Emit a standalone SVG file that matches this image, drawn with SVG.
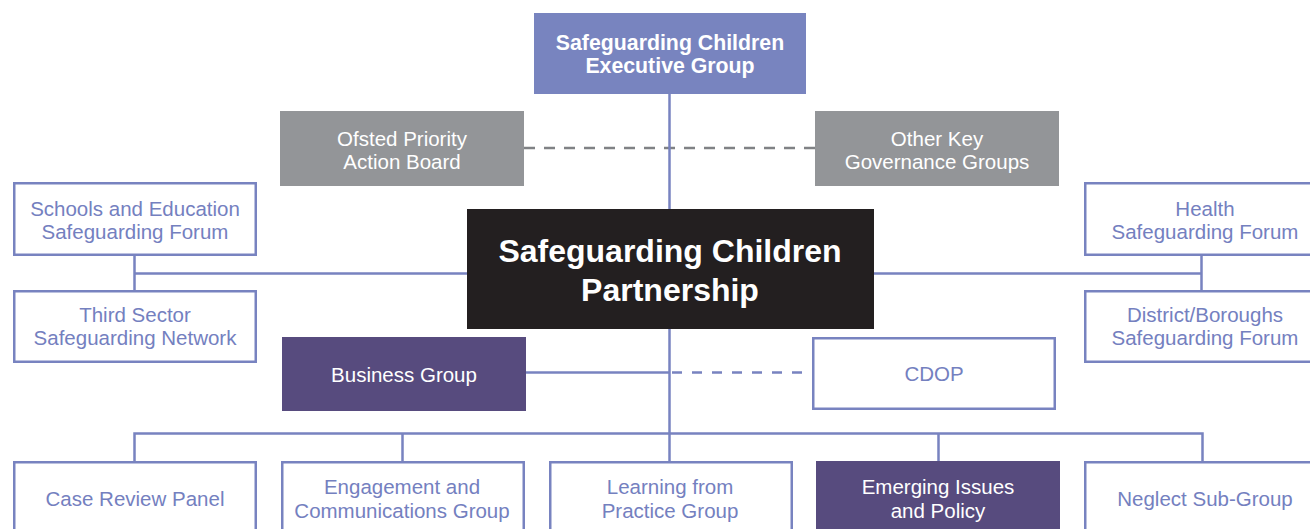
<svg xmlns="http://www.w3.org/2000/svg" width="1310" height="529" viewBox="0 0 1310 529">
<style>
  .t { font-family: "Liberation Sans", Arial, sans-serif; font-size: 20.5px; text-anchor: middle; }
  .b { font-family: "Liberation Sans", Arial, sans-serif; font-weight: bold; text-anchor: middle; fill: #ffffff; }
  .ob { fill: #ffffff; stroke: #7883c0; stroke-width: 2.5; }
  .bt { fill: #7480bf; }
  .wt { fill: #ffffff; }
  .gray { fill: #939598; }
  .purple { fill: #574b7e; }
  .ln { fill: none; stroke: #7883c0; stroke-width: 2.5; }
  .dg { fill: none; stroke: #808285; stroke-width: 2.5; stroke-dasharray: 11 9; }
  .db { fill: none; stroke: #7883c0; stroke-width: 2.5; stroke-dasharray: 10 10; }
</style>
<rect width="1310" height="529" fill="#ffffff"/>
<g id="connectors">
  <path class="dg" d="M524 148 H815"/>
  <path class="ln" d="M669.5 94 V461"/>
  <path class="ln" d="M134.5 256 V290 M134.5 273.5 H467"/>
  <path class="ln" d="M1201.5 256 V290 M873 273.5 H1201.5"/>
  <path class="ln" d="M526 372.5 H669.5"/>
  <path class="db" d="M672 372.5 H802"/>
  <path class="ln" d="M134.5 461 V433.5 H1202.5 V461 M402.5 433.5 V461 M938.5 433.5 V461"/>
</g>
<g id="exec">
  <rect x="534" y="13" width="272" height="81" fill="#7884bf"/>
  <text class="b" x="670" y="50" font-size="21.3">Safeguarding Children</text>
  <text class="b" x="670" y="73" font-size="21.3">Executive Group</text>
</g>
<g id="ofsted">
  <rect class="gray" x="280" y="111" width="244" height="75"/>
  <text class="t wt" x="402" y="146">Ofsted Priority</text>
  <text class="t wt" x="402" y="169">Action Board</text>
</g>
<g id="otherkey">
  <rect class="gray" x="815" y="111" width="244" height="75"/>
  <text class="t wt" x="937" y="146">Other Key</text>
  <text class="t wt" x="937" y="169">Governance Groups</text>
</g>
<g id="partnership">
  <rect x="467" y="209" width="407" height="120" fill="#231f20"/>
  <text class="b" x="670" y="262" font-size="32">Safeguarding Children</text>
  <text class="b" x="670" y="301" font-size="32">Partnership</text>
</g>
<g id="schools">
  <rect class="ob" x="14.25" y="183.25" width="241.5" height="71.5"/>
  <text class="t bt" x="135" y="215.5">Schools and Education</text>
  <text class="t bt" x="135" y="239">Safeguarding Forum</text>
</g>
<g id="thirdsector">
  <rect class="ob" x="14.25" y="291.25" width="241.5" height="70.5"/>
  <text class="t bt" x="135" y="321.5">Third Sector</text>
  <text class="t bt" x="135" y="345">Safeguarding Network</text>
</g>
<g id="health">
  <rect class="ob" x="1085.25" y="183.25" width="241.5" height="71.5"/>
  <text class="t bt" x="1205" y="215.5">Health</text>
  <text class="t bt" x="1205" y="239">Safeguarding Forum</text>
</g>
<g id="district">
  <rect class="ob" x="1085.25" y="291.25" width="241.5" height="70.5"/>
  <text class="t bt" x="1205" y="321.5">District/Boroughs</text>
  <text class="t bt" x="1205" y="345">Safeguarding Forum</text>
</g>
<g id="business">
  <rect class="purple" x="282" y="337" width="244" height="74"/>
  <text class="t wt" x="404" y="382">Business Group</text>
</g>
<g id="cdop">
  <rect class="ob" x="813.25" y="338.25" width="241.5" height="70.5"/>
  <text class="t bt" x="934" y="381">CDOP</text>
</g>
<g id="casereview">
  <rect class="ob" x="14.25" y="462.25" width="241.5" height="80"/>
  <text class="t bt" x="135" y="506">Case Review Panel</text>
</g>
<g id="engagement">
  <rect class="ob" x="282.25" y="462.25" width="241.5" height="80"/>
  <text class="t bt" x="402" y="494">Engagement and</text>
  <text class="t bt" x="402" y="518">Communications Group</text>
</g>
<g id="learning">
  <rect class="ob" x="550.25" y="462.25" width="241.5" height="80"/>
  <text class="t bt" x="670" y="494">Learning from</text>
  <text class="t bt" x="670" y="518">Practice Group</text>
</g>
<g id="emerging">
  <rect class="purple" x="816" y="461" width="244" height="80"/>
  <text class="t wt" x="938" y="494">Emerging Issues</text>
  <text class="t wt" x="938" y="518">and Policy</text>
</g>
<g id="neglect">
  <rect class="ob" x="1085.25" y="462.25" width="241.5" height="80"/>
  <text class="t bt" x="1205" y="506">Neglect Sub-Group</text>
</g>
</svg>
